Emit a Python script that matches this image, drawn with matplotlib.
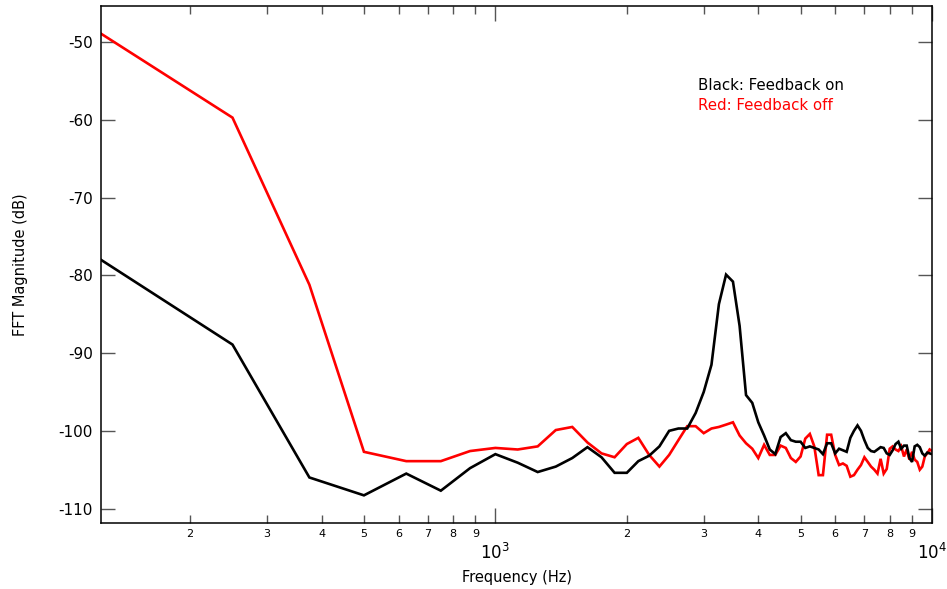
import numpy as np
import matplotlib
matplotlib.use("Agg")
import matplotlib.pyplot as plt
from matplotlib.ticker import FixedLocator, FuncFormatter

# Frequency bins (Hz)
freq_step = 125
n_bins = 80

feedback_on = [
    -78.0, -88.9, -106.0, -108.3, -105.5, -107.7, -104.8, -103.0, -104.1, -105.3,
    -104.6, -103.5, -102.1, -103.4, -105.4, -105.4, -103.9, -103.2, -102.0, -100.0,
    -99.7, -99.7, -97.7, -95.0, -91.5, -83.7, -79.9, -80.8, -86.5, -95.4,
    -96.4, -98.9, -100.6, -102.4, -103.0, -100.8, -100.3, -101.2, -101.4, -101.4,
    -102.2, -102.0, -102.2, -102.4, -103.0, -101.6, -101.6, -102.9, -102.3, -102.5,
    -102.7, -100.9, -100.0, -99.3, -100.0, -101.2, -102.2, -102.6, -102.7, -102.4,
    -102.1, -102.2, -102.9, -103.1, -102.5, -101.7, -101.4, -102.3, -101.9, -101.9,
    -103.5, -104.0, -102.0, -101.8, -102.1, -102.9, -103.2, -102.8, -102.9, -103.0,
]

feedback_off = [
    -48.9, -59.7, -81.2, -102.7, -103.9, -103.9, -102.6, -102.2, -102.4, -102.0,
    -99.9, -99.5, -101.5, -102.9, -103.4, -101.7, -100.9, -103.1, -104.6, -103.1,
    -101.2, -99.4, -99.4, -100.3, -99.7, -99.5, -99.2, -98.9, -100.6, -101.6,
    -102.3, -103.5, -101.8, -103.1, -103.1, -101.9, -102.2, -103.5, -104.0, -103.3,
    -101.0, -100.4, -102.0, -105.7, -105.7, -100.5, -100.5, -103.1, -104.4, -104.2,
    -104.5, -105.9, -105.7, -105.0, -104.4, -103.4, -104.0, -104.6, -105.0, -105.5,
    -103.6, -105.5, -104.9, -102.3, -102.0, -102.4, -102.6, -102.0, -103.3, -102.4,
    -103.7, -102.7, -103.7, -104.0, -105.0, -104.6, -103.3, -102.9, -102.4, -102.6,
]

y_ticks = [-110, -100, -90, -80, -70, -60, -50]

freqs = freq_step * np.arange(1, n_bins + 1)

fig = plt.figure(figsize=(9.47, 5.89), dpi=100)
ax = fig.add_axes([0.1067, 0.1115, 0.9842 - 0.1067, 0.9903 - 0.1115])

ax.plot(freqs, feedback_off, color="#ff0000", lw=1.9, solid_joinstyle="miter")
ax.plot(freqs, feedback_on, color="black", lw=1.9, solid_joinstyle="miter")

ax.set_xscale("log")
ax.set_xlim(125, 10000)
ax.set_ylim(-111.9, -45.3)

ax.set_yticks(y_ticks)
ax.set_yticklabels([str(t) for t in y_ticks])

ax.xaxis.set_major_locator(FixedLocator([1000, 10000]))
ax.xaxis.set_major_formatter(FuncFormatter(lambda v, p: r"$10^{%d}$" % int(round(np.log10(v)))))
minor = [m * 10 ** e for e in (2, 3) for m in range(2, 10)]
ax.xaxis.set_minor_locator(FixedLocator(minor))
ax.xaxis.set_minor_formatter(FuncFormatter(lambda v, p: "%d" % int(round(v / 10 ** np.floor(np.log10(v))))))

tick_col = "#555555"
ax.tick_params(axis="y", which="major", direction="in", length=10, width=1, color=tick_col,
               labelsize=11, pad=6, left=True, right=True)
ax.tick_params(axis="x", which="major", direction="in", length=11, width=1, color=tick_col,
               labelsize=12, pad=14, top=True, bottom=True)
ax.tick_params(axis="x", which="minor", direction="in", length=6, width=1, color=tick_col,
               labelsize=8, pad=4, top=True, bottom=True)

for sp in ax.spines.values():
    sp.set_linewidth(1.1)
    sp.set_color("black")

ax.set_xlabel("Frequency (Hz)", fontsize=10.5, labelpad=5)
ax.set_ylabel("FFT Magnitude (dB)", fontsize=10.5, labelpad=22)

ax.text(0.718, 0.845, "Black: Feedback on", transform=ax.transAxes, color="black",
        fontsize=10.8, va="center", ha="left")
ax.text(0.718, 0.808, "Red: Feedback off", transform=ax.transAxes, color="#ff0000",
        fontsize=10.8, va="center", ha="left")

fig.savefig("out.png", dpi=100)
